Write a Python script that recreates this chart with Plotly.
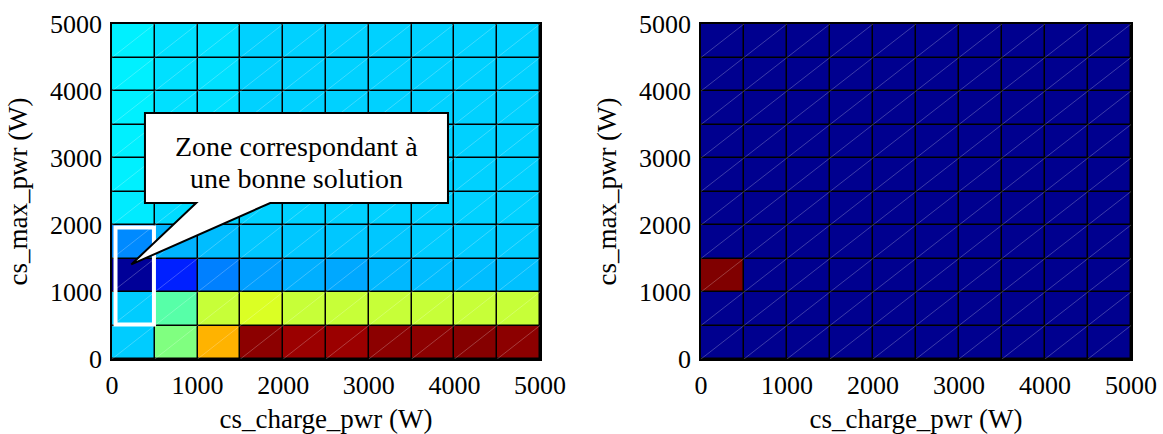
import numpy as np
import plotly.graph_objects as go

# grid of tested values (cell centres, W)
charge_pwr = [250, 750, 1250, 1750, 2250, 2750, 3250, 3750, 4250, 4750]
max_pwr = [250, 750, 1250, 1750, 2250, 2750, 3250, 3750, 4250, 4750]
tick_vals = [0, 1000, 2000, 3000, 4000, 5000]

# left map: normalised criterion, one list per cs_max_pwr band (bottom -> top)
crit_0_500 = [0.325, 0.50, 0.70, 0.988, 0.973, 0.973, 0.988, 0.988, 0.995, 0.988]
crit_500_1000 = [0.325, 0.46, 0.57, 0.59, 0.57, 0.57, 0.57, 0.57, 0.57, 0.57]
crit_1000_1500 = [0.01, 0.156, 0.25, 0.28, 0.297, 0.29, 0.305, 0.31, 0.31, 0.313]
crit_1500_2000 = [0.26, 0.30, 0.31, 0.32, 0.32, 0.32, 0.32, 0.325, 0.325, 0.325]
crit_2000_2500 = [0.355, 0.34, 0.33, 0.33, 0.33, 0.33, 0.33, 0.33, 0.33, 0.33]
crit_2500_3000 = [0.36, 0.345, 0.345, 0.33, 0.33, 0.33, 0.33, 0.33, 0.33, 0.33]
crit_3000_3500 = [0.36, 0.345, 0.345, 0.33, 0.33, 0.33, 0.33, 0.33, 0.33, 0.33]
crit_3500_4000 = [0.36, 0.345, 0.345, 0.33, 0.33, 0.33, 0.33, 0.33, 0.33, 0.33]
crit_4000_4500 = [0.36, 0.345, 0.345, 0.33, 0.33, 0.33, 0.33, 0.33, 0.33, 0.33]
crit_4500_5000 = [0.36, 0.345, 0.345, 0.33, 0.33, 0.33, 0.33, 0.33, 0.33, 0.33]

# right map: 1 where the solution is accepted
ok_0_500 = [0, 0, 0, 0, 0, 0, 0, 0, 0, 0]
ok_500_1000 = [0, 0, 0, 0, 0, 0, 0, 0, 0, 0]
ok_1000_1500 = [1, 0, 0, 0, 0, 0, 0, 0, 0, 0]
ok_rest = [0, 0, 0, 0, 0, 0, 0, 0, 0, 0]

callout_lines = ['Zone correspondant à', 'une bonne solution']

z_left = [crit_0_500, crit_500_1000, crit_1000_1500, crit_1500_2000, crit_2000_2500,
          crit_2500_3000, crit_3000_3500, crit_3500_4000, crit_4000_4500, crit_4500_5000]
z_right = [ok_0_500, ok_500_1000, ok_1000_1500] + [ok_rest] * 7

jet = [[0, 'rgb(0,0,143)'], [0.125, 'rgb(0,0,255)'], [0.375, 'rgb(0,255,255)'],
       [0.625, 'rgb(255,255,0)'], [0.875, 'rgb(255,0,0)'], [1, 'rgb(128,0,0)']]

FONT = 'Liberation Serif'
W, H = 1163, 434

fig = go.Figure()
for i, z in enumerate([z_left, z_right]):
    sfx = '' if i == 0 else '2'
    fig.add_trace(go.Heatmap(
        x=charge_pwr, y=max_pwr, z=z, zmin=0, zmax=1, colorscale=jet,
        showscale=False, xgap=1.5, ygap=1.5,
        xaxis='x' + sfx, yaxis='y' + sfx, hoverinfo='skip'))

    # faint triangulation diagonals
    dx, dy = [], []
    for k in range(-9, 10):
        c = k * 500
        x0 = max(0, -c)
        x1 = min(5000, 5000 - c)
        dx += [x0, x1, None]
        dy += [x0 + c, x1 + c, None]
    fig.add_trace(go.Scatter(
        x=dx, y=dy, mode='lines', xaxis='x' + sfx, yaxis='y' + sfx,
        line=dict(color='rgba(255,255,255,0.3)', width=0.8),
        hoverinfo='skip', showlegend=False))

px = lambda p: p / W
py = lambda p: 1 - p / H

axis_common = dict(
    range=[0, 5000], tickvals=tick_vals, showgrid=False, zeroline=False,
    showline=True, linecolor='black', linewidth=1.5, mirror=True,
    ticks='outside', tickcolor='rgba(0,0,0,0)', automargin=False,
    tickfont=dict(family=FONT, size=26, color='black'))
xt = dict(text='cs_charge_pwr (W)', standoff=12, font=dict(family=FONT, size=27))
yt = dict(text='cs_max_pwr (W)', standoff=15, font=dict(family=FONT, size=27))

fig.update_layout(
    width=W, height=H, margin=dict(l=0, r=0, t=0, b=0),
    paper_bgcolor='white', plot_bgcolor='black', showlegend=False,
    font=dict(family=FONT, size=26, color='black'),
    xaxis=dict(axis_common, ticklen=2, domain=[px(112), px(540)], anchor='y', title=xt),
    yaxis=dict(axis_common, ticklen=3, domain=[py(359), py(24)], anchor='x', title=yt),
    xaxis2=dict(axis_common, ticklen=2, domain=[px(701), px(1131)], anchor='y2', title=xt),
    yaxis2=dict(axis_common, ticklen=3, domain=[py(359), py(24)], anchor='x2', title=yt),
)

# white frame around the good zone
fig.add_shape(type='rect', xref='x', yref='y', x0=41, x1=490, y0=515, y1=1963,
              line=dict(color='white', width=4), fillcolor='rgba(0,0,0,0)')

# speech-bubble callout
bubble = 'M 385,3672 L 3925,3672 L 3925,2328 L 1848,2328 L 225,1411 L 983,2328 L 385,2328 Z'
fig.add_shape(type='path', xref='x', yref='y', path=bubble,
              fillcolor='white', line=dict(color='black', width=2))
for txt, yv in zip(callout_lines, [3170, 2700]):
    fig.add_annotation(x=2155, y=yv, xref='x', yref='y', text=txt, showarrow=False,
                       font=dict(family=FONT, size=28, color='black'))

# page body has a default margin; drop it so the figure sits at the window origin
fig.write_html('out.html', config={'displayModeBar': False},
               post_script="document.body.style.margin='0';")
